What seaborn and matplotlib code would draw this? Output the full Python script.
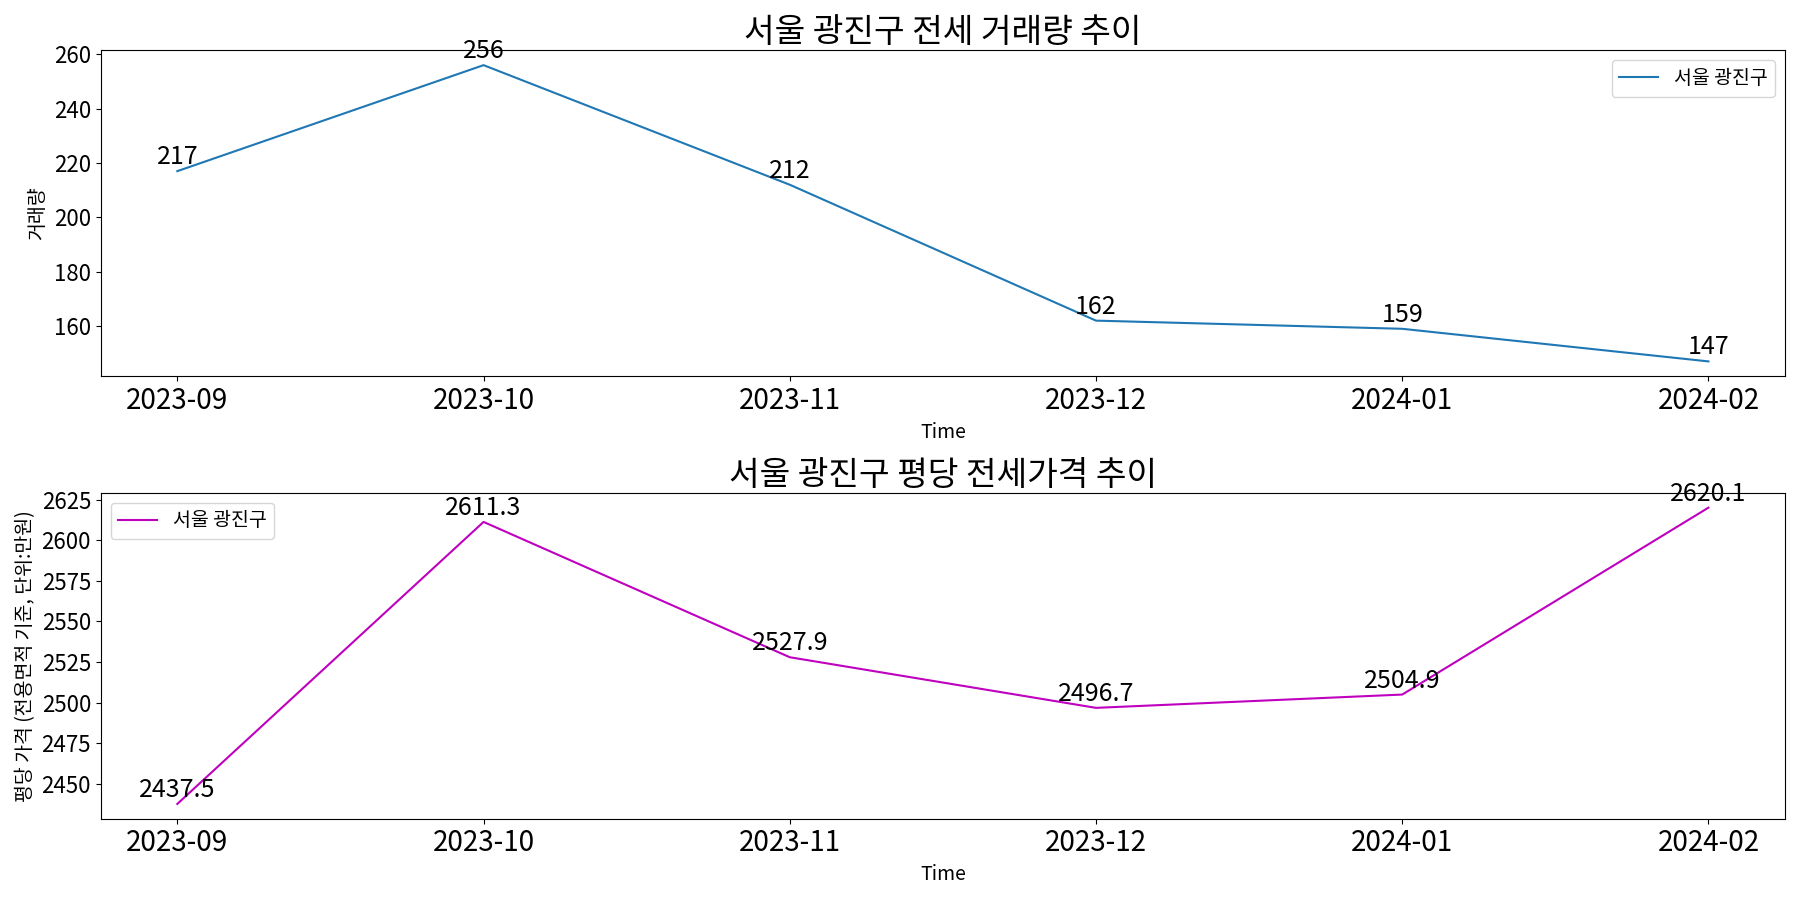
import matplotlib
matplotlib.use("Agg")
import matplotlib.pyplot as plt
from matplotlib.ticker import MultipleLocator
import seaborn as sns
import pandas as pd

plt.rcParams["font.family"] = ["Noto Sans CJK KR", "Noto Sans CJK JP", "Noto Sans CJK SC", "Noto Sans CJK TC", "DejaVu Sans"]
plt.rcParams["axes.unicode_minus"] = False

months = ["2023-09", "2023-10", "2023-11", "2023-12", "2024-01", "2024-02"]
volume = [217, 256, 212, 162, 159, 147]
price = [2437.5, 2611.3, 2527.9, 2496.7, 2504.9, 2620.1]
label = "서울 광진구"

df = pd.DataFrame({"Time": months, "vol": volume, "price": price})

fig, axes = plt.subplots(2, 1, figsize=(18, 9), dpi=100)

ax = axes[0]
sns.lineplot(data=df, x="Time", y="vol", ax=ax, color="#1f77b4", label=label, sort=False)
for i, v in enumerate(volume):
    ax.annotate(f"{v}", (i, v), textcoords="offset points", xytext=(0, 5), ha="center", fontsize=18)
ax.set_title("서울 광진구 전세 거래량 추이", fontsize=24)
ax.set_ylabel("거래량", fontsize=14)
ax.set_xlabel("Time", fontsize=14)
ax.tick_params(axis="x", labelsize=20)
ax.tick_params(axis="y", labelsize=16)
ax.legend(loc="upper right", fontsize=14)

ax = axes[1]
sns.lineplot(data=df, x="Time", y="price", ax=ax, color="m", label=label, sort=False)
for i, v in enumerate(price):
    ax.annotate(f"{v}", (i, v), textcoords="offset points", xytext=(0, 5), ha="center", fontsize=18)
ax.set_title("서울 광진구 평당 전세가격 추이", fontsize=24)
ax.set_ylabel("평당 가격 (전용면적 기준, 단위:만원)", fontsize=14)
ax.set_xlabel("Time", fontsize=14)
ax.yaxis.set_major_locator(MultipleLocator(25))
ax.tick_params(axis="x", labelsize=20)
ax.tick_params(axis="y", labelsize=16)
ax.legend(loc="upper left", fontsize=14)

plt.tight_layout()
fig.savefig("out.png")
